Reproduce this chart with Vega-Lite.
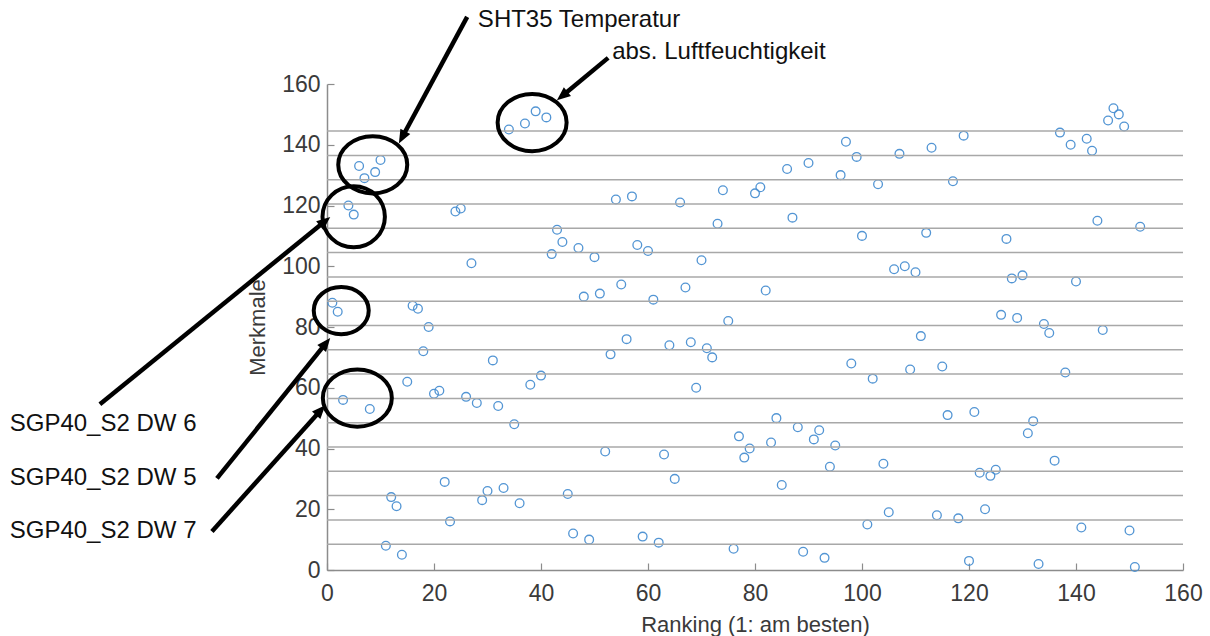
{
  "$schema": "https://vega.github.io/schema/vega-lite/v6.json",
  "width": 856,
  "height": 486,
  "autosize": {"type": "none"},
  "padding": {"left": 327, "top": 84, "right": 27, "bottom": 66},
  "background": "white",
  "config": {
    "view": {"stroke": null},
    "font": "Liberation Sans",
    "axis": {
      "domainColor": "#8c8c8c",
      "domainWidth": 1.5,
      "tickColor": "#8c8c8c",
      "tickWidth": 1.2,
      "tickSize": -7,
      "labelFont": "Liberation Sans",
      "labelFontSize": 23,
      "labelColor": "#3a3a3a",
      "titleFont": "Liberation Sans",
      "titleFontSize": 22,
      "titleFontWeight": "normal",
      "titleColor": "#3a3a3a",
      "grid": false
    }
  },
  "datasets": {
    "ranking": [
      {"rang": 151, "merkmal": 1}, {"rang": 133, "merkmal": 2}, {"rang": 120, "merkmal": 3}, {"rang": 93, "merkmal": 4},
      {"rang": 14, "merkmal": 5}, {"rang": 89, "merkmal": 6}, {"rang": 76, "merkmal": 7}, {"rang": 11, "merkmal": 8},
      {"rang": 62, "merkmal": 9}, {"rang": 49, "merkmal": 10}, {"rang": 59, "merkmal": 11}, {"rang": 46, "merkmal": 12},
      {"rang": 150, "merkmal": 13}, {"rang": 141, "merkmal": 14}, {"rang": 101, "merkmal": 15}, {"rang": 23, "merkmal": 16},
      {"rang": 118, "merkmal": 17}, {"rang": 114, "merkmal": 18}, {"rang": 105, "merkmal": 19}, {"rang": 123, "merkmal": 20},
      {"rang": 13, "merkmal": 21}, {"rang": 36, "merkmal": 22}, {"rang": 29, "merkmal": 23}, {"rang": 12, "merkmal": 24},
      {"rang": 45, "merkmal": 25}, {"rang": 30, "merkmal": 26}, {"rang": 33, "merkmal": 27}, {"rang": 85, "merkmal": 28},
      {"rang": 22, "merkmal": 29}, {"rang": 65, "merkmal": 30}, {"rang": 124, "merkmal": 31}, {"rang": 122, "merkmal": 32},
      {"rang": 125, "merkmal": 33}, {"rang": 94, "merkmal": 34}, {"rang": 104, "merkmal": 35}, {"rang": 136, "merkmal": 36},
      {"rang": 78, "merkmal": 37}, {"rang": 63, "merkmal": 38}, {"rang": 52, "merkmal": 39}, {"rang": 79, "merkmal": 40},
      {"rang": 95, "merkmal": 41}, {"rang": 83, "merkmal": 42}, {"rang": 91, "merkmal": 43}, {"rang": 77, "merkmal": 44},
      {"rang": 131, "merkmal": 45}, {"rang": 92, "merkmal": 46}, {"rang": 88, "merkmal": 47}, {"rang": 35, "merkmal": 48},
      {"rang": 132, "merkmal": 49}, {"rang": 84, "merkmal": 50}, {"rang": 116, "merkmal": 51}, {"rang": 121, "merkmal": 52},
      {"rang": 8, "merkmal": 53}, {"rang": 32, "merkmal": 54}, {"rang": 28, "merkmal": 55}, {"rang": 3, "merkmal": 56},
      {"rang": 26, "merkmal": 57}, {"rang": 20, "merkmal": 58}, {"rang": 21, "merkmal": 59}, {"rang": 69, "merkmal": 60},
      {"rang": 38, "merkmal": 61}, {"rang": 15, "merkmal": 62}, {"rang": 102, "merkmal": 63}, {"rang": 40, "merkmal": 64},
      {"rang": 138, "merkmal": 65}, {"rang": 109, "merkmal": 66}, {"rang": 115, "merkmal": 67}, {"rang": 98, "merkmal": 68},
      {"rang": 31, "merkmal": 69}, {"rang": 72, "merkmal": 70}, {"rang": 53, "merkmal": 71}, {"rang": 18, "merkmal": 72},
      {"rang": 71, "merkmal": 73}, {"rang": 64, "merkmal": 74}, {"rang": 68, "merkmal": 75}, {"rang": 56, "merkmal": 76},
      {"rang": 111, "merkmal": 77}, {"rang": 135, "merkmal": 78}, {"rang": 145, "merkmal": 79}, {"rang": 19, "merkmal": 80},
      {"rang": 134, "merkmal": 81}, {"rang": 75, "merkmal": 82}, {"rang": 129, "merkmal": 83}, {"rang": 126, "merkmal": 84},
      {"rang": 2, "merkmal": 85}, {"rang": 17, "merkmal": 86}, {"rang": 16, "merkmal": 87}, {"rang": 1, "merkmal": 88},
      {"rang": 61, "merkmal": 89}, {"rang": 48, "merkmal": 90}, {"rang": 51, "merkmal": 91}, {"rang": 82, "merkmal": 92},
      {"rang": 67, "merkmal": 93}, {"rang": 55, "merkmal": 94}, {"rang": 140, "merkmal": 95}, {"rang": 128, "merkmal": 96},
      {"rang": 130, "merkmal": 97}, {"rang": 110, "merkmal": 98}, {"rang": 106, "merkmal": 99}, {"rang": 108, "merkmal": 100},
      {"rang": 27, "merkmal": 101}, {"rang": 70, "merkmal": 102}, {"rang": 50, "merkmal": 103}, {"rang": 42, "merkmal": 104},
      {"rang": 60, "merkmal": 105}, {"rang": 47, "merkmal": 106}, {"rang": 58, "merkmal": 107}, {"rang": 44, "merkmal": 108},
      {"rang": 127, "merkmal": 109}, {"rang": 100, "merkmal": 110}, {"rang": 112, "merkmal": 111}, {"rang": 43, "merkmal": 112},
      {"rang": 152, "merkmal": 113}, {"rang": 73, "merkmal": 114}, {"rang": 144, "merkmal": 115}, {"rang": 87, "merkmal": 116},
      {"rang": 5, "merkmal": 117}, {"rang": 24, "merkmal": 118}, {"rang": 25, "merkmal": 119}, {"rang": 4, "merkmal": 120},
      {"rang": 66, "merkmal": 121}, {"rang": 54, "merkmal": 122}, {"rang": 57, "merkmal": 123}, {"rang": 80, "merkmal": 124},
      {"rang": 74, "merkmal": 125}, {"rang": 81, "merkmal": 126}, {"rang": 103, "merkmal": 127}, {"rang": 117, "merkmal": 128},
      {"rang": 7, "merkmal": 129}, {"rang": 96, "merkmal": 130}, {"rang": 9, "merkmal": 131}, {"rang": 86, "merkmal": 132},
      {"rang": 6, "merkmal": 133}, {"rang": 90, "merkmal": 134}, {"rang": 10, "merkmal": 135}, {"rang": 99, "merkmal": 136},
      {"rang": 107, "merkmal": 137}, {"rang": 143, "merkmal": 138}, {"rang": 113, "merkmal": 139}, {"rang": 139, "merkmal": 140},
      {"rang": 97, "merkmal": 141}, {"rang": 142, "merkmal": 142}, {"rang": 119, "merkmal": 143}, {"rang": 137, "merkmal": 144},
      {"rang": 34, "merkmal": 145}, {"rang": 149, "merkmal": 146}, {"rang": 37, "merkmal": 147}, {"rang": 146, "merkmal": 148},
      {"rang": 41, "merkmal": 149}, {"rang": 148, "merkmal": 150}, {"rang": 39, "merkmal": 151}, {"rang": 147, "merkmal": 152}
    ],
    "gruppen": [
      {"grenze": 8.5}, {"grenze": 16.5}, {"grenze": 24.5}, {"grenze": 32.5}, {"grenze": 40.5}, {"grenze": 48.5},
      {"grenze": 56.5}, {"grenze": 64.5}, {"grenze": 72.5}, {"grenze": 80.5}, {"grenze": 88.5}, {"grenze": 96.5},
      {"grenze": 104.5}, {"grenze": 112.5}, {"grenze": 120.5}, {"grenze": 128.5}, {"grenze": 136.5}, {"grenze": 144.5}
    ],
    "hinweise": [
      {"text": "SHT35 Temperatur", "tx": 28.2, "ty": 181.1, "ax0": 26.2, "ay0": 182.1, "ax": 14.0, "ay": 142.3, "ex": 8.55, "ey": 133.4, "form": "gross"},
      {"text": "abs. Luftfeuchtigkeit", "tx": 53.3, "ty": 170.6, "ax0": 52.55, "ay0": 168.6, "ax": 43.9, "ay": 156.0, "ex": 38.34, "ey": 147.3, "form": "gross"},
      {"text": "SGP40_S2 DW 6", "tx": -59.3, "ty": 48.0, "ax0": -42.45, "ay0": 54.55, "ax": -0.32, "ay": 114.9, "ex": 4.99, "ey": 116.3, "form": "rund"},
      {"text": "SGP40_S2 DW 5", "tx": -59.3, "ty": 30.2, "ax0": -20.57, "ay0": 30.16, "ax": -0.15, "ay": 74.75, "ex": 2.66, "ey": 85.4, "form": "flach"},
      {"text": "SGP40_S2 DW 7", "tx": -59.3, "ty": 12.7, "ax0": -21.51, "ay0": 12.69, "ax": -1.12, "ay": 52.7, "ex": 5.67, "ey": 56.6, "form": "gross"}
    ]
  },
  "layer": [
    {
      "data": {"name": "ranking"},
      "mark": {"type": "point", "shape": "circle", "filled": false, "color": "#4a90d2", "size": 76, "strokeWidth": 1.3, "opacity": 0.95},
      "encoding": {
        "x": {
          "field": "rang", "type": "quantitative",
          "scale": {"domain": [0, 160], "nice": false},
          "axis": {"title": "Ranking (1: am besten)", "values": [0, 20, 40, 60, 80, 100, 120, 140, 160], "labelPadding": 19, "titlePadding": 9, "labelFlush": false}
        },
        "y": {
          "field": "merkmal", "type": "quantitative",
          "scale": {"domain": [0, 160], "nice": false},
          "axis": {"title": "Merkmale", "values": [0, 20, 40, 60, 80, 100, 120, 140, 160], "labelPadding": 14, "titlePadding": 12, "labelFlush": false}
        }
      }
    },
    {
      "data": {"name": "gruppen"},
      "mark": {"type": "rule", "color": "#a8a8a8", "strokeWidth": 1.5},
      "encoding": {
        "y": {"field": "grenze", "type": "quantitative", "scale": {"domain": [0, 160], "nice": false}, "title": "Merkmale"}
      }
    },
    {
      "data": {"name": "hinweise"},
      "mark": {"type": "rule", "color": "black", "strokeWidth": 4.5, "strokeCap": "butt"},
      "encoding": {
        "x": {"field": "ax0", "type": "quantitative", "scale": {"domain": [0, 160], "nice": false}, "title": "Ranking (1: am besten)"},
        "y": {"field": "ay0", "type": "quantitative", "scale": {"domain": [0, 160], "nice": false}, "title": "Merkmale"},
        "x2": {"field": "ax"},
        "y2": {"field": "ay"}
      }
    },
    {
      "data": {"name": "hinweise"},
      "mark": {
        "type": "point", "filled": true, "color": "black", "opacity": 1, "size": 256,
        "shape": "M0,-0.8L-0.7,0.9L0.7,0.9Z",
        "angle": {"expr": "atan2(scale('x', datum.ax) - scale('x', datum.ax0), scale('y', datum.ay0) - scale('y', datum.ay)) * 180 / PI"}
      },
      "encoding": {
        "x": {"field": "ax", "type": "quantitative", "scale": {"domain": [0, 160], "nice": false}, "title": "Ranking (1: am besten)"},
        "y": {"field": "ay", "type": "quantitative", "scale": {"domain": [0, 160], "nice": false}, "title": "Merkmale"}
      }
    },
    {
      "data": {"name": "hinweise"},
      "mark": {"type": "point", "filled": false, "color": "black", "opacity": 1, "strokeWidth": 4},
      "encoding": {
        "x": {"field": "ex", "type": "quantitative", "scale": {"domain": [0, 160], "nice": false}, "title": "Ranking (1: am besten)"},
        "y": {"field": "ey", "type": "quantitative", "scale": {"domain": [0, 160], "nice": false}, "title": "Merkmale"},
        "shape": {
          "field": "form", "type": "nominal", "legend": null,
          "scale": {
            "domain": ["gross", "rund", "flach"],
            "range": [
              "M-1,0A1,0.83 0 1,1 1,0A1,0.83 0 1,1 -1,0Z",
              "M-1,0A1,0.98 0 1,1 1,0A1,0.98 0 1,1 -1,0Z",
              "M-1,0A1,0.86 0 1,1 1,0A1,0.86 0 1,1 -1,0Z"
            ]
          }
        },
        "size": {
          "field": "form", "type": "ordinal", "legend": null,
          "scale": {"domain": ["gross", "rund", "flach"], "range": [4761, 3025, 3025]}
        }
      }
    },
    {
      "data": {"name": "hinweise"},
      "mark": {"type": "text", "align": "left", "baseline": "middle", "font": "Liberation Sans", "fontSize": 24, "color": "#111111"},
      "encoding": {
        "x": {"field": "tx", "type": "quantitative", "scale": {"domain": [0, 160], "nice": false}, "title": "Ranking (1: am besten)"},
        "y": {"field": "ty", "type": "quantitative", "scale": {"domain": [0, 160], "nice": false}, "title": "Merkmale"},
        "text": {"field": "text"}
      }
    }
  ]
}
